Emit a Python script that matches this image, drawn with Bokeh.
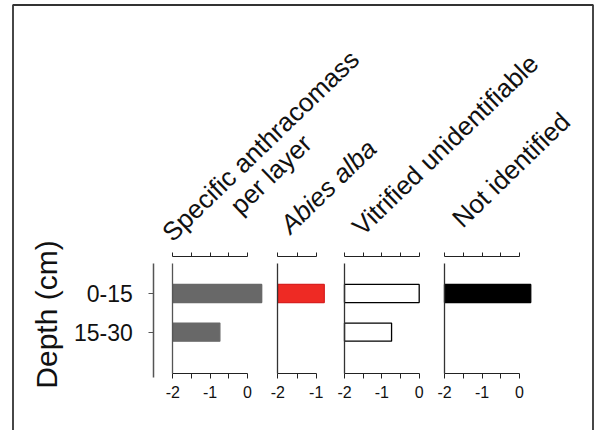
import math
from bokeh.plotting import figure
from bokeh.models import Range1d, LinearAxis, FixedTicker
from bokeh.core.properties import value
from bokeh.embed import file_html
from bokeh.resources import INLINE

# ---------------- data ----------------
depths = ["0-15", "15-30"]
panel_names = ["specific", "abies", "vitrified", "notid"]
specific_anthracomass = [0.38, -0.74]
abies_alba = [-0.79, None]
vitrified_unidentifiable = [0.0, -0.74]
not_identified = [0.30, None]
series = [specific_anthracomass, abies_alba, vitrified_unidentifiable, not_identified]
axis_min = -2
panel_max = [0, -1, 0, 0]
major_ticks = [[-2, -1, 0], [-2, -1], [-2, -1, 0], [-2, -1, 0]]
minor_ticks = [[-1.5, -0.5], [-1.5], [-1.5, -0.5], [-1.5, -0.5]]
tick_text = {-2: "-2", -1: "-1", 0: "0"}
depth_label = "Depth (cm)"
title_lines = ["Specific anthracomass", "per layer", "Abies alba", "Vitrified unidentifiable", "Not identified"]

# ---------------- layout / style ----------------
W, H = 596, 430
PAGE_X0, PAGE_Y0 = 0, 0
PAGE_Y1 = PAGE_Y0 + H

def dx(px):  # page x -> main data x
    return px - PAGE_X0

def dy(py):  # page y -> main data y
    return PAGE_Y1 - py

panel_left_px = [172.3, 277.3, 344.0, 444.0]   # page x of value -2
panel_scale = [37.35, 38.4, 37.35, 37.5]        # px per unit
cat0_py, cat_step = 293.0, 38.6                 # page y of first depth, px per depth step

bar_fill = ["#686868", "#ee2a24", "white", "black"]
bar_line = ["#686868", "#d82020", "black", "black"]

p = figure(width=W, height=H, output_backend="svg", toolbar_location=None,
           x_range=Range1d(0, W), y_range=Range1d(0, H),
           x_axis_location=None, y_axis_location=None, min_border=0,
           outline_line_color=None)
p.xgrid.visible = False
p.ygrid.visible = False
p.background_fill_color = "white"

cat_start = (PAGE_Y1 - cat0_py) / cat_step
cat_end = (PAGE_Y0 - cat0_py) / cat_step
p.extra_y_ranges = {"cat": Range1d(cat_start, cat_end)}

def cat_of(py):
    return (py - cat0_py) / cat_step

extra = {}
for i, name in enumerate(panel_names):
    k = panel_scale[i]
    start = axis_min - (panel_left_px[i] - PAGE_X0) / k
    extra[name] = Range1d(start, start + W / k)
p.extra_x_ranges = extra

bottom_axis_py = 372.5
top_axis_py = 255.7
panel_line_top_py = 263.0

for i, name in enumerate(panel_names):
    vals = series[i]
    ys = [j for j, v in enumerate(vals) if v is not None]
    rights = [vals[j] for j in ys]
    lefts = [axis_min] * len(ys)
    p.hbar(y=ys, left=lefts, right=rights, height=0.47,
           x_range_name=name, y_range_name="cat",
           fill_color=bar_fill[i], line_color=bar_line[i], line_width=1.3)

    ax = LinearAxis(x_range_name=name, ticker=FixedTicker(ticks=major_ticks[i], minor_ticks=minor_ticks[i]),
                    bounds=(axis_min, panel_max[i]), fixed_location=dy(bottom_axis_py))
    ax.major_label_overrides = {t: tick_text[t] for t in major_ticks[i]}
    ax.axis_line_color = "#222222"
    ax.axis_line_width = 1.2
    ax.major_tick_in = 0
    ax.major_tick_out = 5
    ax.minor_tick_in = 0
    ax.minor_tick_out = 5
    ax.major_tick_line_color = "#222222"
    ax.minor_tick_line_color = "#222222"
    ax.major_label_text_font = "Liberation Sans"
    ax.major_label_text_font_size = "16px"
    ax.major_label_text_color = "#111111"
    ax.major_label_standoff = 8
    p.add_layout(ax, "below")

    at = LinearAxis(x_range_name=name, ticker=FixedTicker(ticks=major_ticks[i], minor_ticks=minor_ticks[i]),
                    bounds=(axis_min, panel_max[i]), fixed_location=dy(top_axis_py))
    at.axis_line_color = "#222222"
    at.axis_line_width = 1.2
    at.major_tick_in = 0
    at.major_tick_out = 4
    at.minor_tick_in = 0
    at.minor_tick_out = 4
    at.major_tick_line_color = "#222222"
    at.minor_tick_line_color = "#222222"
    at.major_label_text_color = None
    p.add_layout(at, "above")

    av = LinearAxis(x_range_name=name, y_range_name="cat", ticker=FixedTicker(ticks=[]),
                    bounds=(cat_of(panel_line_top_py), cat_of(bottom_axis_py)),
                    fixed_location=axis_min)
    av.axis_line_color = "#333333" if i else "#555555"
    av.axis_line_width = 1.3
    av.major_tick_in = 0
    av.major_tick_out = 0
    av.minor_tick_out = 0
    av.major_label_text_color = None
    p.add_layout(av, "left")

ad = LinearAxis(y_range_name="cat", ticker=FixedTicker(ticks=list(range(len(depths)))),
                bounds=(cat_of(262.7), cat_of(377.0)), fixed_location=dx(153.3))
ad.major_label_overrides = {j: d for j, d in enumerate(depths)}
ad.axis_line_color = "#555555"
ad.axis_line_width = 1.5
ad.major_tick_in = 0
ad.major_tick_out = 5
ad.minor_tick_out = 0
ad.major_tick_line_color = "#555555"
ad.major_label_text_font = "Liberation Sans"
ad.major_label_text_font_size = "23px"
ad.major_label_text_color = "#111111"
ad.major_label_standoff = 16
p.add_layout(ad, "left")

p.text(x=[dx(46)], y=[dy(314)], text=[depth_label], angle=math.pi / 2,
       text_align="center", text_baseline="alphabetic",
       text_font=value("Liberation Sans"), text_font_size=value("30px"), text_color="#111111")

ang = math.radians(44)
title_px = [(166, 236), (234, 209), (284, 228), (356, 230), (456, 222)]
title_style = ["normal", "normal", "italic", "normal", "normal"]
for t, (px, py), st in zip(title_lines, title_px, title_style):
    p.text(x=[dx(px)], y=[dy(py)], text=[t], angle=ang,
           text_align="left", text_baseline="alphabetic",
           text_font=value("Liberation Sans"), text_font_size=value("26px"),
           text_font_style=st, text_color="#111111")

p.line(x=[dx(12.5), dx(12.5), dx(592.5), dx(592.5)], y=[-5, dy(4.5), dy(4.5), -5],
       line_color="#333333", line_width=1.8)

open("out.html", "w").write(file_html(p, INLINE))
